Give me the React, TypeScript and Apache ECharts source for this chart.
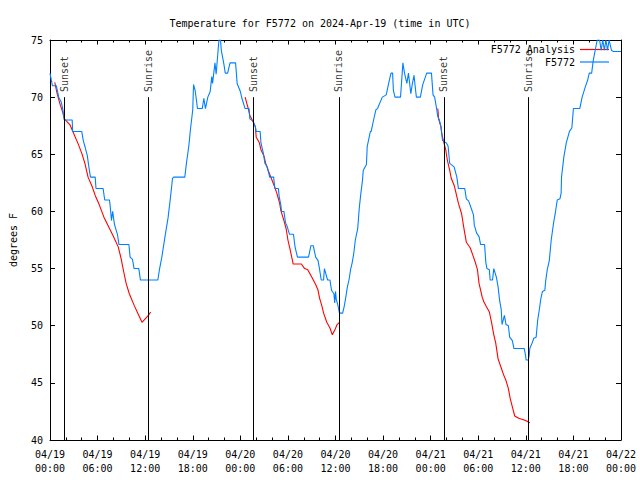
import React, { useEffect, useRef } from "react";
import * as echarts from "echarts";

const FONT = "DejaVu Sans Mono";

const chartTitle = "Temperature for F5772 on 2024-Apr-19 (time in UTC)";
const yAxisName = "degrees F";

// x in hours since 04/19 00:00 UTC
const xTickLabels = [
  "04/19\n00:00", "04/19\n06:00", "04/19\n12:00", "04/19\n18:00",
  "04/20\n00:00", "04/20\n06:00", "04/20\n12:00", "04/20\n18:00",
  "04/21\n00:00", "04/21\n06:00", "04/21\n12:00", "04/21\n18:00",
  "04/22\n00:00",
];

const eventHours = [1.8, 12.42, 25.67, 36.42, 49.67, 60.3];
const eventLabels = ["Sunset", "Sunrise", "Sunset", "Sunrise", "Sunset", "Sunrise"];

// Observations (F5772): [hour, degF]
const observed: number[][] = [
  [0.0, 72.1], [0.3, 71.0], [0.8, 71.0], [1.1, 70.0], [1.4, 69.6], [1.6, 69.0], [1.8, 68.0],
  [2.8, 68.0], [2.85, 67.0], [4.0, 67.0], [4.2, 66.2], [4.4, 65.7], [4.7, 64.9], [4.9, 63.9],
  [5.1, 63.0], [5.7, 63.0], [5.8, 62.0], [6.7, 62.0], [6.9, 61.0], [7.5, 61.0], [7.6, 60.4],
  [7.75, 59.2], [7.9, 60.0], [8.1, 59.0], [8.2, 58.7], [8.5, 58.0], [8.7, 57.1], [9.95, 57.1],
  [10.1, 56.0], [10.4, 55.8], [10.6, 55.0], [11.2, 55.0], [11.4, 54.0], [13.6, 54.0],
  [13.8, 54.9], [14.1, 56.0], [14.5, 57.8], [14.9, 59.5], [15.2, 61.3], [15.45, 62.9],
  [15.6, 63.0], [17.0, 63.0], [17.2, 64.2], [17.5, 65.7], [17.7, 67.1], [18.0, 68.9],
  [18.1, 71.1], [18.3, 70.6], [18.6, 69.0], [19.2, 69.0], [19.4, 69.9], [19.6, 69.0],
  [19.9, 70.0], [20.2, 70.5], [20.4, 71.8], [20.5, 71.2], [20.8, 73.0], [20.95, 72.0],
  [21.3, 75.0], [21.5, 75.0], [21.6, 74.1], [21.9, 73.0], [22.1, 72.1], [22.4, 72.1],
  [22.7, 73.0], [23.4, 73.0], [23.6, 71.2], [24.0, 70.5], [24.2, 69.9], [24.6, 69.0],
  [25.1, 69.0], [25.2, 68.1], [25.6, 67.9], [25.9, 67.4], [26.0, 67.0], [26.5, 67.0],
  [26.6, 66.0], [26.9, 65.1], [27.1, 64.2], [27.4, 63.9], [27.7, 63.0], [28.2, 63.0],
  [28.35, 62.0], [28.8, 62.0], [28.9, 61.3], [29.1, 60.6], [29.2, 60.0], [29.5, 60.0],
  [29.7, 59.0], [29.9, 58.7], [30.2, 58.0], [30.7, 58.0], [30.9, 56.9], [31.2, 56.0],
  [32.6, 56.0], [32.9, 57.0], [33.2, 57.0], [33.5, 56.0], [33.8, 55.7], [34.0, 54.9],
  [34.2, 54.0], [34.5, 54.0], [34.6, 55.0], [35.0, 54.0], [35.3, 54.0], [35.5, 53.1],
  [35.8, 52.8], [35.9, 52.0], [36.0, 53.0], [36.1, 52.3], [36.3, 51.8], [36.5, 51.1],
  [36.9, 51.1], [37.1, 51.7], [37.3, 52.5], [37.5, 53.4], [37.7, 54.0], [37.9, 54.9],
  [38.1, 55.5], [38.3, 56.3], [38.5, 57.5], [38.8, 58.5], [39.0, 60.3], [39.2, 61.6],
  [39.4, 62.7], [39.5, 63.6], [39.9, 64.1], [40.0, 65.7], [40.4, 67.0], [40.5, 67.0],
  [40.8, 68.0], [41.1, 68.9], [41.3, 69.0], [41.9, 70.0], [42.4, 70.2], [42.7, 71.2],
  [43.0, 72.1], [43.2, 72.1], [43.3, 70.6], [43.5, 70.0], [44.2, 70.0], [44.5, 73.0],
  [44.7, 72.1], [45.0, 71.2], [45.2, 72.1], [45.5, 70.3], [45.7, 71.2], [45.9, 71.9],
  [46.1, 70.6], [46.2, 70.0], [46.7, 70.0], [47.0, 71.1], [47.5, 72.1], [48.1, 72.1],
  [48.3, 70.2], [48.5, 70.0], [48.7, 69.2], [48.9, 68.3], [49.1, 68.0], [49.3, 67.4],
  [49.5, 66.2], [49.96, 66.0], [50.2, 65.7], [50.4, 64.2], [50.96, 63.9], [51.3, 63.0],
  [51.5, 62.0], [52.3, 62.0], [52.5, 61.1], [52.8, 60.9], [53.1, 60.3], [53.4, 59.7],
  [53.5, 58.8], [53.8, 58.1], [54.1, 57.8], [54.3, 57.1], [54.8, 57.1], [54.96, 55.5],
  [55.1, 55.0], [55.4, 54.9], [55.5, 54.0], [55.8, 54.0], [55.96, 55.0], [56.3, 54.2],
  [56.5, 53.4], [56.7, 52.2], [56.9, 51.4], [57.0, 50.1], [57.3, 50.9], [57.5, 50.1],
  [57.8, 50.0], [57.96, 49.0], [58.3, 48.7], [58.5, 48.0], [59.8, 48.0], [59.96, 47.4],
  [60.04, 47.0], [60.3, 47.0], [60.4, 47.3], [60.5, 48.0], [60.8, 48.5], [61.0, 48.9],
  [61.3, 49.0], [61.5, 50.5], [61.7, 51.4], [61.9, 52.4], [62.1, 53.0], [62.4, 53.1],
  [62.5, 53.9], [62.7, 54.9], [62.96, 55.7], [63.2, 57.5], [63.5, 59.0], [63.7, 59.8],
  [63.96, 61.0], [64.3, 61.1], [64.45, 61.6], [64.5, 63.0], [64.8, 64.8], [65.1, 66.0],
  [65.5, 67.0], [65.8, 67.3], [66.0, 69.0], [66.8, 69.0], [67.1, 70.0], [67.5, 70.9],
  [67.8, 71.5], [68.0, 72.1], [68.3, 72.1], [68.5, 73.2], [68.8, 74.3], [69.0, 75.0],
  [69.3, 75.0], [69.5, 74.1], [69.7, 75.0], [69.9, 74.1], [70.1, 75.0], [70.3, 74.1],
  [70.5, 75.0], [70.8, 74.1], [71.0, 74.0], [72.0, 74.0],
];

// Analysis (F5772 Analysis), one array per night: [hour, degF]
const analysisNight1: number[][] = [
  [0.6, 71.3], [0.9, 70.3], [1.3, 69.3], [1.6, 68.7], [1.8, 68.1], [2.5, 67.6], [3.0, 66.8],
  [3.5, 66.0], [4.0, 65.1], [4.4, 64.2], [4.8, 63.0], [5.3, 62.2], [5.7, 61.4], [6.2, 60.6],
  [6.8, 59.5], [7.5, 58.5], [8.0, 57.8], [8.6, 56.9], [8.96, 55.9], [9.3, 54.7], [9.6, 53.7],
  [10.0, 52.8], [10.6, 51.8], [11.2, 50.9], [11.6, 50.3], [12.0, 50.6], [12.4, 50.9],
  [12.7, 51.2],
];
const analysisNight2: number[][] = [
  [24.6, 70.0], [25.0, 69.0], [25.2, 68.4], [25.5, 68.0], [25.9, 67.4], [26.0, 66.5],
  [26.4, 66.0], [26.6, 65.4], [27.0, 64.8], [27.2, 64.2], [27.5, 63.6], [27.9, 62.9],
  [28.3, 62.2], [28.6, 61.6], [28.96, 60.7], [29.1, 60.1], [29.5, 59.2], [29.8, 58.4],
  [30.0, 57.5], [30.3, 56.6], [30.6, 55.6], [30.65, 55.4], [31.7, 55.4], [32.1, 55.0],
  [32.5, 54.9], [32.9, 54.4], [33.2, 54.0], [33.5, 53.6], [33.8, 53.1], [34.0, 52.4],
  [34.3, 51.7], [34.5, 51.1], [34.9, 50.3], [35.3, 49.8], [35.6, 49.2], [35.96, 49.7],
  [36.2, 50.1], [36.5, 50.3],
];
const analysisNight3: number[][] = [
  [48.9, 69.0], [49.0, 68.1], [49.3, 67.4], [49.4, 66.8], [49.6, 66.2], [49.9, 65.4],
  [50.1, 64.5], [50.4, 63.6], [50.6, 62.9], [51.0, 62.2], [51.3, 61.3], [51.5, 60.7],
  [51.9, 59.8], [52.2, 58.5], [52.5, 57.3], [53.0, 56.8], [53.3, 56.2], [53.6, 55.6],
  [53.9, 54.9], [54.1, 53.7], [54.5, 52.5], [54.7, 52.1], [55.0, 51.7], [55.4, 51.2],
  [55.7, 50.2], [55.96, 49.2], [56.2, 48.5], [56.5, 47.1], [56.9, 46.3], [57.2, 45.7],
  [57.5, 45.2], [57.8, 44.5], [58.04, 43.6], [58.3, 42.9], [58.6, 42.1], [59.1, 41.9],
  [59.6, 41.8], [59.96, 41.7], [60.5, 41.5],
];

const RED = "#ff0000";
const BLUE = "#0080ff";

export default function App() {
  const ref = useRef<HTMLDivElement>(null);

  useEffect(() => {
    if (!ref.current) return;
    const chart = echarts.init(ref.current, undefined, { renderer: "svg" });
    const txt = { fontFamily: FONT, fontSize: 10, color: "#000" };
    const xAxisBase = {
      type: "value" as const,
      min: 0,
      max: 72,
      interval: 6,
      axisLine: { show: true, onZero: false, lineStyle: { color: "#000", width: 1 } },
      axisTick: { show: true, inside: true, length: 4.5, lineStyle: { color: "#000", width: 1 } },
      minorTick: { show: true, splitNumber: 3, length: 2.5, lineStyle: { color: "#000", width: 1 } },
      splitLine: { show: false },
      minorSplitLine: { show: false },
    };
    const yAxisBase = {
      type: "value" as const,
      min: 40,
      max: 75,
      interval: 5,
      axisLine: { show: true, onZero: false, lineStyle: { color: "#000", width: 1 } },
      axisTick: { show: true, inside: true, length: 5, lineStyle: { color: "#000", width: 1 } },
      splitLine: { show: false },
    };
    const analysisSeries = [analysisNight1, analysisNight2, analysisNight3].map((d) => ({
      type: "line",
      name: "F5772 Analysis",
      data: d,
      symbol: "none",
      showSymbol: false,
      color: RED,
      lineStyle: { color: RED, width: 1.1 },
      itemStyle: { color: RED },
      z: 3,
    }));
    const legendBase = {
      right: 31,
      align: "right",
      orient: "horizontal",
      itemWidth: 29,
      itemHeight: 1.2,
      padding: 0,
      textStyle: txt,
    };
    chart.setOption({
      animation: false,
      backgroundColor: "#fff",
      title: {
        text: chartTitle,
        left: "center",
        top: 13,
        textStyle: { ...txt, fontWeight: "normal" },
      },
      legend: [
        {
          ...legendBase,
          data: [{ name: "F5772 Analysis", icon: "rect", itemStyle: { color: RED, borderWidth: 0 } }],
          top: 44.5,
        },
        {
          ...legendBase,
          data: [{ name: "F5772", icon: "rect", itemStyle: { color: BLUE, borderWidth: 0 } }],
          top: 57,
        },
      ],
      grid: { left: 47, right: 19, top: 40, bottom: 40, containLabel: false },
      xAxis: [
        {
          ...xAxisBase,
          position: "bottom",
          axisLabel: {
            ...txt,
            lineHeight: 14,
            margin: 7,
            formatter: (v: number) => xTickLabels[Math.round(v / 6)] ?? "",
          },
        },
        { ...xAxisBase, position: "top", axisLabel: { show: false } },
      ],
      yAxis: [
        {
          ...yAxisBase,
          position: "left",
          name: yAxisName,
          nameLocation: "middle",
          nameGap: 32,
          nameTextStyle: txt,
          axisLabel: { ...txt, margin: 7 },
        },
        { ...yAxisBase, position: "right", axisLabel: { show: false } },
      ],
      series: [
        ...analysisSeries,
        {
          type: "line",
          name: "F5772",
          data: observed,
          symbol: "none",
          showSymbol: false,
          color: BLUE,
          lineStyle: { color: BLUE, width: 1.1 },
          itemStyle: { color: BLUE },
          z: 4,
        },
        {
          type: "scatter",
          name: "events",
          data: eventHours.map((h, i) => ({ value: [h, 70], name: eventLabels[i] })),
          symbol: "circle",
          symbolSize: 0.1,
          itemStyle: { color: "rgba(0,0,0,0)" },
          silent: true,
          z: 5,
          label: {
            show: true,
            formatter: "{b}",
            position: [0, -5],
            align: "left",
            verticalAlign: "middle",
            rotate: 90,
            ...txt,
          },
          markLine: {
            silent: true,
            symbol: ["none", "none"],
            label: { show: false },
            lineStyle: { color: "#000", width: 1, type: "solid" },
            data: eventHours.map((h) => [{ coord: [h, 70] }, { coord: [h, 40] }]),
          },
        },
      ],
    });
    return () => chart.dispose();
  }, []);

  return (
    <div
      ref={ref}
      style={{ position: "fixed", left: 0, top: 0, width: 640, height: 480, background: "#fff" }}
    />
  );
}
